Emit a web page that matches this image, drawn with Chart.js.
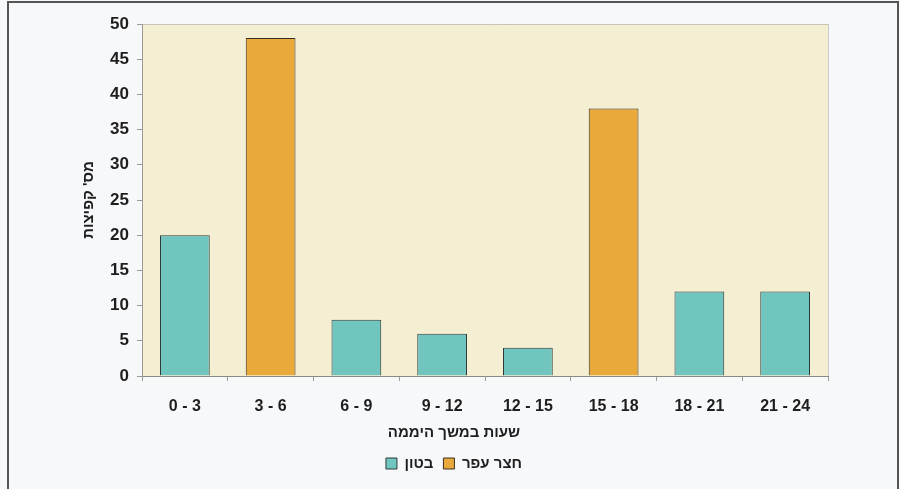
<!DOCTYPE html>
<html>
<head>
<meta charset="utf-8">
<script src="https://cdn.jsdelivr.net/npm/chart.js@4.4.1/dist/chart.umd.min.js"></script>
<style>
  body { margin: 0; background: #f7f8fa; }
  #frame { position: absolute; left: 7px; top: 1px; width: 888px; height: 600px; border: 2px solid #555; }
  #wrap { position: absolute; left: 0; top: 0; width: 900px; height: 489px; }
</style>
</head>
<body>
<div id="frame"></div>
<div id="wrap"><canvas id="jumpChart" width="900" height="489"></canvas></div>
<script>
// Hour ranges along the day
const hourRanges = ['0 - 3', '3 - 6', '6 - 9', '9 - 12', '12 - 15', '15 - 18', '18 - 21', '21 - 24'];

// Jumps counted on concrete vs on dirt yard
const concreteJumps = [20, null, 8, 6, 4, null, 12, 12];
const dirtYardJumps = [null, 48, null, null, null, 38, null, null];

const yTicks = [0, 5, 10, 15, 20, 25, 30, 35, 40, 45, 50];

const FONT = "'Liberation Sans', Arial, sans-serif";

// Fill the plot area and draw its thin border
const plotBackground = {

    id: 'plotBackground',
    beforeDraw(chart) {

        const { ctx, chartArea } = chart;
        ctx.save();
        ctx.fillStyle = '#f4eed3';
        ctx.fillRect(chartArea.left, chartArea.top, chartArea.width, chartArea.height);
        ctx.strokeStyle = '#9a9a94';
        ctx.lineWidth = 1;
        ctx.setLineDash([1, 1]);
        ctx.strokeRect(chartArea.left + 0.5, chartArea.top + 0.5, chartArea.width, chartArea.height);
        ctx.restore();
    }
};

function initializeChart() {

    const ctx = document.getElementById('jumpChart').getContext('2d');

    new Chart(ctx, {

        type: 'bar',
        data: {

            labels: hourRanges,
            datasets: [
                {
                    label: 'בטון',
                    data: concreteJumps,
                    backgroundColor: '#70c5bf',
                    borderColor: '#2e3a38',
                    borderWidth: 1
                },
                {
                    label: 'חצר עפר',
                    data: dirtYardJumps,
                    backgroundColor: '#e9aa3b',
                    borderColor: '#3a3020',
                    borderWidth: 1
                }
            ]
        },
        options: {

            responsive: false,
            animation: false,
            grouped: false,
            barPercentage: 0.58,
            categoryPercentage: 1,
            layout: {
                padding: { top: 24, right: 72, left: 80, bottom: 8 }
            },
            scales: {

                x: {
                    grid: { drawOnChartArea: false, tickLength: 5, color: '#9a9a94', offset: true },
                    border: { color: '#8a8a84' },
                    ticks: {
                        color: '#1e1e1e',
                        padding: 16,
                        maxRotation: 0,
                        font: { family: FONT, size: 16, weight: 'bold' }
                    },
                    afterFit(scale) { scale.height = 44; }
                },
                y: {
                    min: 0,
                    max: 50,
                    afterBuildTicks(scale) { scale.ticks = yTicks.map(v => ({ value: v })); },
                    grid: { drawOnChartArea: false, tickLength: 5, color: '#9a9a94' },
                    border: { color: '#9a9a94' },
                    ticks: {
                        color: '#1e1e1e',
                        padding: 8,
                        font: { family: FONT, size: 17, weight: 'bold' }
                    },
                    title: {
                        display: true,
                        text: "מס' קפיצות",
                        color: '#1e1e1e',
                        padding: 0,
                        font: { family: FONT, size: 15, weight: 'bold' }
                    },
                    afterFit(scale) { scale.width = 62; }
                }
            },
            plugins: {

                title: {
                    display: true,
                    position: 'bottom',
                    weight: 500,
                    text: 'שעות במשך היממה',
                    color: '#1e1e1e',
                    padding: { top: 4, bottom: 4 },
                    font: { family: FONT, size: 15, weight: 'bold' }
                },
                legend: {
                    position: 'bottom',
                    labels: {
                        color: '#1e1e1e',
                        boxWidth: 11,
                        boxHeight: 11,
                        padding: 10,
                        font: { family: FONT, size: 15, weight: 'bold' }
                    }
                },
                tooltip: { enabled: false }
            }
        },
        plugins: [plotBackground]
    });
}

window.onload = function () {

    initializeChart();
};
</script>
</body>
</html>
